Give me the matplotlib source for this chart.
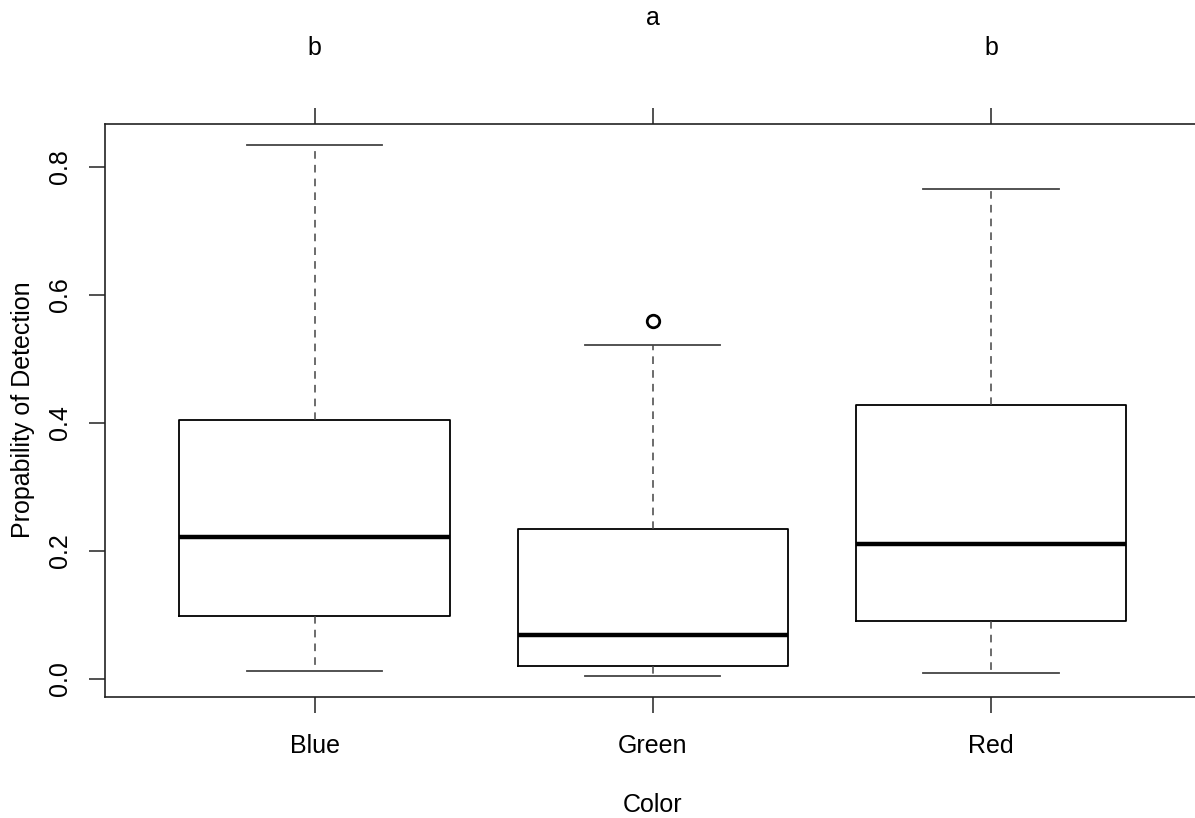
import matplotlib
matplotlib.use("Agg")
import matplotlib.pyplot as plt
import matplotlib.transforms as mtransforms

# values
groups = ["Blue", "Green", "Red"]
q1 = [0.098, 0.020, 0.091]
medians = [0.222, 0.068, 0.211]
q3 = [0.405, 0.234, 0.428]
whisk_lo = [0.013, 0.005, 0.009]
whisk_hi = [0.834, 0.522, 0.766]
outliers = [[], [0.559], []]
letters = ["b", "a", "b"]
letter_height = [1.133, 1.185, 1.133]   # axes fraction, "a" sits higher

plt.rcParams["font.family"] = ["Liberation Sans", "DejaVu Sans"]
plt.rcParams["font.size"] = 18

fig = plt.figure(figsize=(11.95, 8.18), dpi=100)
# the original R device was wider than the saved picture, so the box runs past the right edge
ax = fig.add_axes([105 / 1195, 121 / 818, 1095.6 / 1195, 573 / 818])

stats = []
for i, g in enumerate(groups):
    stats.append(dict(label=g, med=medians[i], q1=q1[i], q3=q3[i],
                      whislo=whisk_lo[i], whishi=whisk_hi[i], fliers=outliers[i]))

pos = [1, 2, 3]
ax.bxp(stats, positions=pos, widths=0.8,
       boxprops=dict(color="black", linewidth=1.3),
       medianprops=dict(color="black", linewidth=3.2, solid_capstyle="butt"),
       whiskerprops=dict(color="#444444", linewidth=1.1, linestyle=(0, (5, 4))),
       capprops=dict(color="#444444", linewidth=1.3),
       flierprops=dict(marker="o", markersize=9, markerfacecolor="none",
                       markeredgecolor="black", markeredgewidth=2.0),
       capwidths=0.4)

# R style limits: 4% padding
lo = min(whisk_lo)
hi = max(whisk_hi)
pad = (hi - lo) * 0.04
ax.set_ylim(lo - pad, hi + pad)
ax.set_xlim(0.38, 3.62)

ax.set_yticks([0.0, 0.2, 0.4, 0.6, 0.8])
ax.set_yticklabels(["0.0", "0.2", "0.4", "0.6", "0.8"], rotation=90, va="center")
ax.set_xticks(pos)
ax.set_xticklabels(groups)
ax.tick_params(axis="both", length=11.5, width=1.2, color="#333333", pad=12)
ax.tick_params(axis="x", pad=15)

for s in ax.spines.values():
    s.set_linewidth(1.2)
    s.set_color("#222222")

# ticks on top with the group letters above them
top = ax.secondary_xaxis("top")
top.set_xticks(pos)
top.set_xticklabels(["", "", ""])
top.tick_params(length=11.5, width=1.2, color="#333333")
top.spines["top"].set_visible(False)

trans = mtransforms.blended_transform_factory(ax.transData, ax.transAxes)
for x, lab, h in zip(pos, letters, letter_height):
    ax.text(x, h, lab, transform=trans, ha="center", va="center")

ax.set_xlabel("Color", labelpad=25)
fig.text(23 / 1195, (818 - 410) / 818, "Propability of Detection",
         rotation=90, ha="center", va="center")

fig.savefig("out.png", dpi=100)
